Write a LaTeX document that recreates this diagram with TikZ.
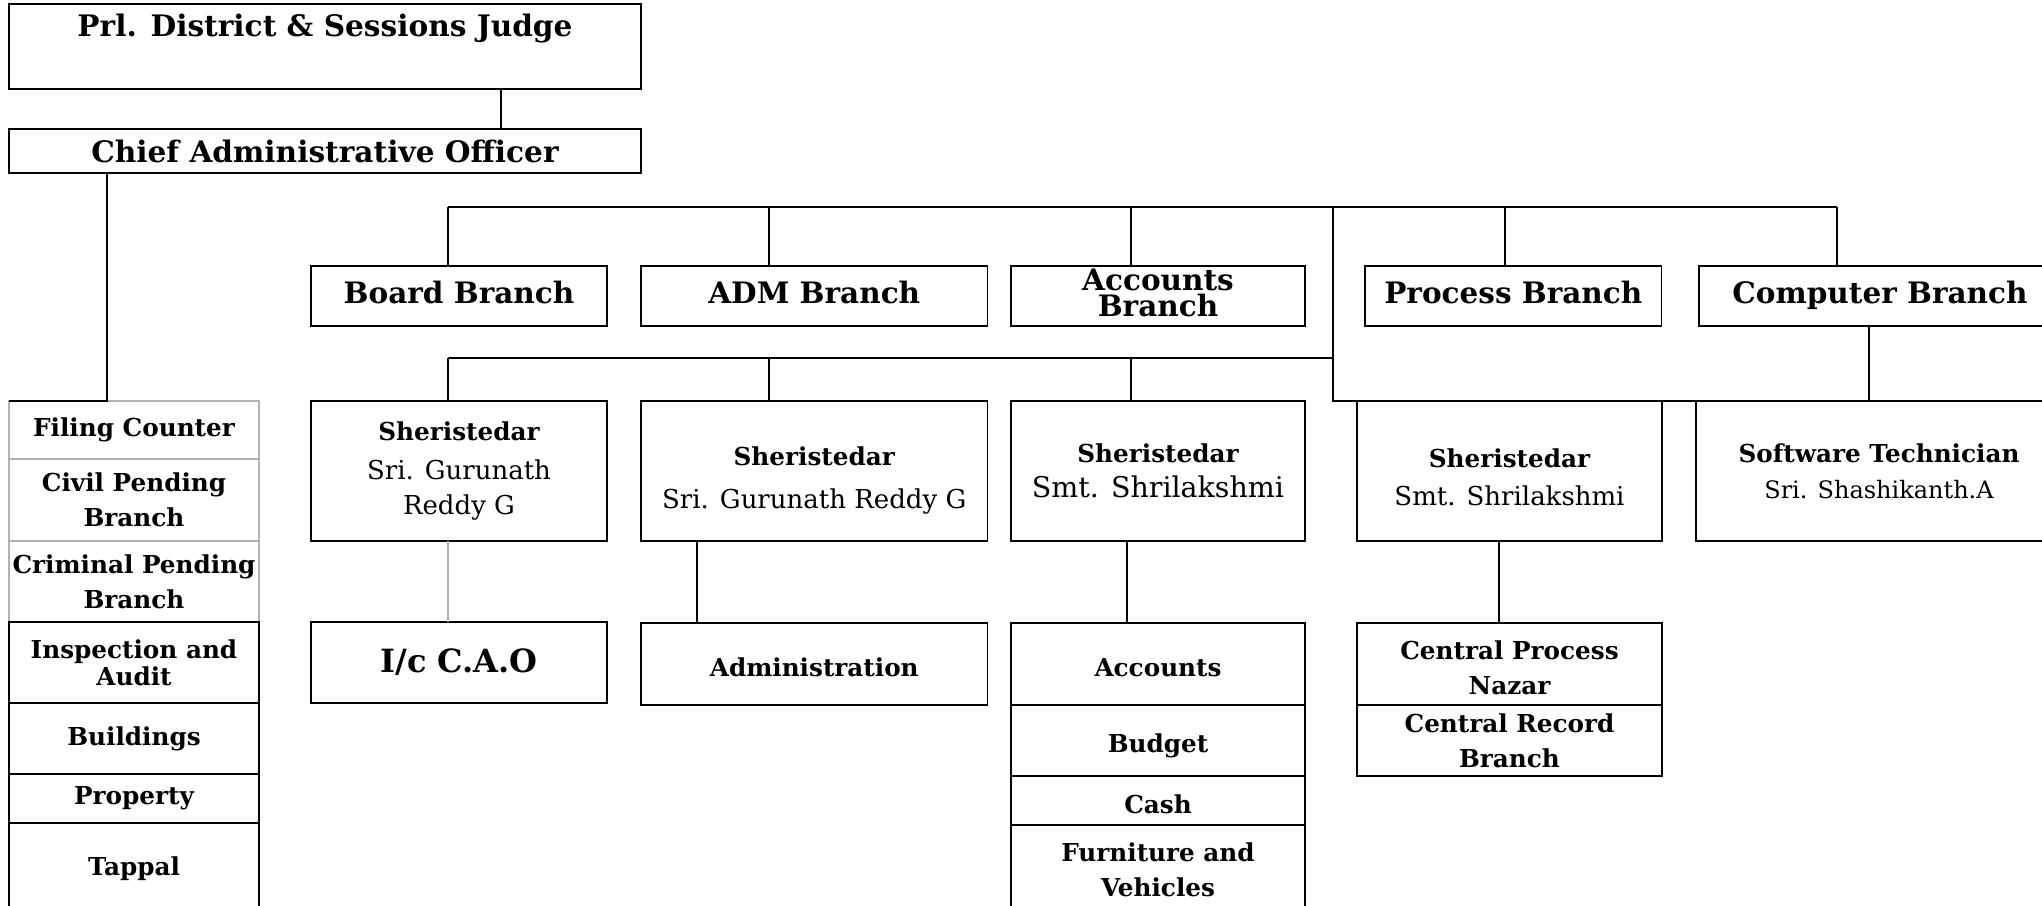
\documentclass[tikz,border=0pt]{standalone}
\usepackage{fontspec}
\setmainfont{DejaVu Serif}
\usetikzlibrary{positioning}

\newcommand{\titlefont}{\fontsize{29.6}{33}\selectfont\bfseries}
\newcommand{\branchfont}{\fontsize{29.5}{26}\selectfont\bfseries}
\newcommand{\unitfont}{\fontsize{24.7}{35}\selectfont\bfseries}
\newcommand{\tightfont}{\fontsize{24.7}{27}\selectfont\bfseries}
\newcommand{\personfont}{\fontsize{26}{26}\selectfont\mdseries}

\tikzset{
  box/.style={draw, line width=1.2pt, anchor=north west, inner sep=0pt,
    outer sep=0pt, align=center, font=\unitfont},
  branchbox/.style={box, minimum height=60pt, font=\branchfont, text depth=7pt},
  pale/.style={draw=black!30},
  link/.style={line width=1.2pt},
}

\begin{document}
\begin{tikzpicture}[x=1pt, y=-1pt]
\useasboundingbox (0,0) rectangle (2042,905);

% head office
\node[box, minimum width=632pt, minimum height=85pt, font=\titlefont, text depth=42pt] (judge) at (9,4) {Prl. District \& Sessions Judge};
\node[box, minimum width=632pt, minimum height=44pt, font=\titlefont] (cao) at (9,129) {Chief Administrative Officer};

% branches
\node[branchbox, minimum width=296pt] (board) at (311,266) {Board Branch};
\node[branchbox, minimum width=346.5pt] (adm) at (641,266) {ADM Branch};
\node[branchbox, minimum width=294pt] (acct) at (1011,266) {Accounts\\Branch};
\node[branchbox, minimum width=296.6pt] (proc) at (1365,266) {Process Branch};
\node[branchbox, minimum width=362pt] (comp) at (1699,266) {Computer Branch};

% sheristedars
\node[box, minimum width=296pt, minimum height=140pt] (sher1) at (311,401) {Sheristedar\\[4pt]\personfont Sri. Gurunath\\\personfont Reddy G};
\node[box, minimum width=346.5pt, minimum height=140pt] (sher2) at (641,401) {\rule{0pt}{37pt}Sheristedar\\[8pt]\personfont Sri. Gurunath Reddy G};
\node[box, minimum width=294pt, minimum height=140pt] (sher3) at (1011,401) {Sheristedar\\\fontsize{28.5}{30}\selectfont\mdseries Smt. Shrilakshmi};
\node[box, minimum width=305pt, minimum height=140pt] (sher4) at (1357,401) {\rule{0pt}{32pt}Sheristedar\\[3pt]\personfont Smt. Shrilakshmi};
\node[box, minimum width=366pt, minimum height=140pt] (soft) at (1696,401) {Software Technician\\[1pt]\fontsize{24}{26}\selectfont\mdseries Sri. Shashikanth.A};

% left column
\node[box, pale, minimum width=250pt, minimum height=58pt] (filing) at (9,401) {Filing Counter};
\node[box, pale, minimum width=250pt, minimum height=82pt] (civil) at (9,459) {Civil Pending\\Branch};
\node[box, pale, minimum width=250pt, minimum height=81pt] (crim) at (9,541) {Criminal Pending\\Branch};
\node[box, minimum width=250pt, minimum height=81pt, font=\tightfont] (insp) at (9,622) {Inspection and\\Audit};
\node[box, minimum width=250pt, minimum height=71pt] (build) at (9,703) {Buildings};
\node[box, minimum width=250pt, minimum height=49pt] (prop) at (9,774) {Property};
\node[box, minimum width=250pt, minimum height=92pt] (tappal) at (9,823) {Tappal};

% sections
\node[box, minimum width=296pt, minimum height=81pt, font=\fontsize{32}{34}\selectfont\bfseries] (ic) at (311,622) {I/c C.A.O};
\node[box, minimum width=346.5pt, minimum height=82pt] (admin) at (641,623) {\rule{0pt}{26pt}Administration};
\node[box, minimum width=294pt, minimum height=82pt] (accts) at (1011,623) {\rule{0pt}{26pt}Accounts};
\node[box, minimum width=294pt, minimum height=71pt] (budget) at (1011,705) {\rule{0pt}{30pt}Budget};
\node[box, minimum width=294pt, minimum height=49pt] (cash) at (1011,776) {\rule{0pt}{26pt}Cash};
\node[box, minimum width=294pt, minimum height=90pt] (furn) at (1011,825) {Furniture and\\Vehicles};
\node[box, minimum width=305pt, minimum height=82pt] (cproc) at (1357,623) {\rule{0pt}{26pt}Central Process\\Nazar};
\node[box, minimum width=305pt, minimum height=71pt] (crec) at (1357,705) {Central Record\\Branch};

% connectors
\draw[link] ([xshift=176pt]judge.south) -- ([xshift=176pt]cao.north);
\draw[link] ([xshift=-218pt]cao.south) |- (filing.north west);

\coordinate (t1) at (448,207);
\coordinate (t2) at (769,207);
\coordinate (t3) at (1131,207);
\coordinate (t4) at (1333,207);
\coordinate (t5) at (1505,207);
\coordinate (t6) at (1837,207);
\coordinate (s1) at (448,358);
\draw[link] (t1) -- (t6);
\foreach \t/\n in {t1/board, t2/adm, t3/acct, t5/proc, t6/comp}
  \draw[link] (\t) -- (\t |- \n.north);
\draw[link] (s1) -- (s1 -| t4);
\foreach \t/\n in {t1/sher1, t2/sher2, t3/sher3}
  \draw[link] (\t |- s1) -- (\t |- \n.north);
\draw[link] (t4) -- (t4 |- soft.north) -- (soft.north east);
\draw[link] (comp.south -| 1869,0) -- (soft.north -| 1869,0);

\draw[link, black!30] (sher1.south -| t1) -- (ic.north -| t1);
\draw[link] (sher2.south -| 697,0) -- (admin.north -| 697,0);
\draw[link] (sher3.south -| 1127,0) -- (accts.north -| 1127,0);
\draw[link] (sher4.south -| 1499,0) -- (cproc.north -| 1499,0);
\end{tikzpicture}
\end{document}
